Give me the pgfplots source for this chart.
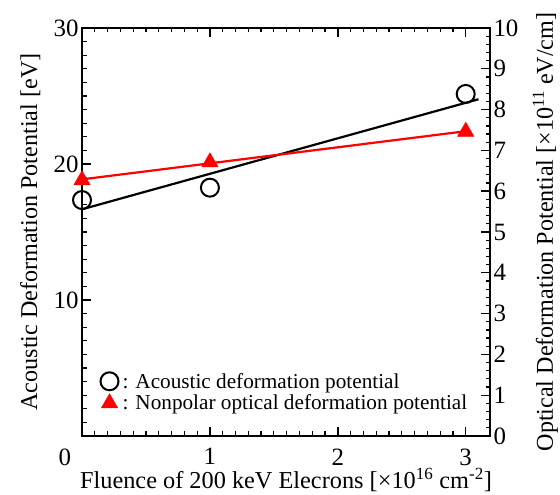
\documentclass[border=0pt]{standalone}
\usepackage{pgfplots}
\pgfplotsset{compat=1.18}
\usepackage{fontspec}
\setmainfont{Liberation Serif}
\begin{document}
\begin{tikzpicture}
\useasboundingbox (-82bp,-59bp) rectangle (478bp,436bp);
\pgfplotsset{
  common/.style={
    scale only axis, width=408bp, height=408bp,
    at={(0,0)}, anchor=south west,
    xmin=0, xmax=3.19,
    tick align=inside,
    major tick length=9bp, minor tick length=4.5bp,
    every tick/.style={black, line width=1.4bp},
    every minor tick/.style={black, line width=1.2bp},
    axis line style={line width=1.8bp},
    tick label style={font=\fontsize{25}{25}\selectfont},
    /pgf/number format/assume math mode=true,
    clip=false,
  }
}
\begin{axis}[common,
  ymin=0, ymax=30,
  xtick pos=both, ytick pos=left,
  xtick={0,1,2,3},
  xticklabels={\makebox[0pt][r]{0\kern 11bp},\mbox{1},\mbox{2},\mbox{3}},
  xticklabel style={yshift=-9bp},
  minor x tick num=9,
  ytick={0,10,20,30}, yticklabels={,\mbox{10},\mbox{20},\mbox{30}},
  minor y tick num=9,
  xlabel={Fluence of 200 keV Elecrons [×10\textsuperscript{16} cm\textsuperscript{-2}]},
  ylabel={Acoustic Deformation Potential [eV]},
  every axis x label/.style={at={(axis description cs:0.5,-0.1275)}, anchor=base, font=\fontsize{24.4}{26}\selectfont},
  every axis y label/.style={at={(axis description cs:-0.110,0.5)}, rotate=90, anchor=base, font=\fontsize{24.2}{26}\selectfont},
  legend style={draw=none, fill=none, at={(axis description cs:0.04,0.05)}, anchor=south west,
    font=\fontsize{21.3}{23}\selectfont, row sep=1.5pt, inner sep=2pt},
  legend cell align=left,
]
\addplot[black, line width=2.2bp, no marks, forget plot] coordinates {(0,16.67) (3.1,24.76)};
\addplot[only marks, mark=o, mark size=9bp, black, mark options={line width=2bp}] coordinates {
(0,17.35) (1,18.26) (3,25.15)};
\addlegendentry{\kern2bp: Acoustic deformation potential}
\addlegendimage{only marks, mark=triangle*, mark size=9.5bp, red}
\addlegendentry{\kern2bp: Nonpolar optical deformation potential}
\end{axis}
\begin{axis}[common,
  ymin=0, ymax=10,
  axis x line=none, axis y line*=right,
  tick align=inside,
  ytick={0,1,...,10},
  minor y tick num=4,
  ylabel={Optical Deformation Potential [×10\textsuperscript{11} eV/cm]},
  every axis y label/.style={at={(axis description cs:1.154,0.5)}, rotate=90, anchor=base, font=\fontsize{24.2}{26}\selectfont},
]
\addplot[red, line width=2.2bp, no marks] coordinates {(0,6.29) (3,7.47)};
\addplot[only marks, mark=triangle*, mark size=9.5bp, red] coordinates {
(0,6.27) (1,6.71) (3,7.46)};
\end{axis}
\end{tikzpicture}
\end{document}
